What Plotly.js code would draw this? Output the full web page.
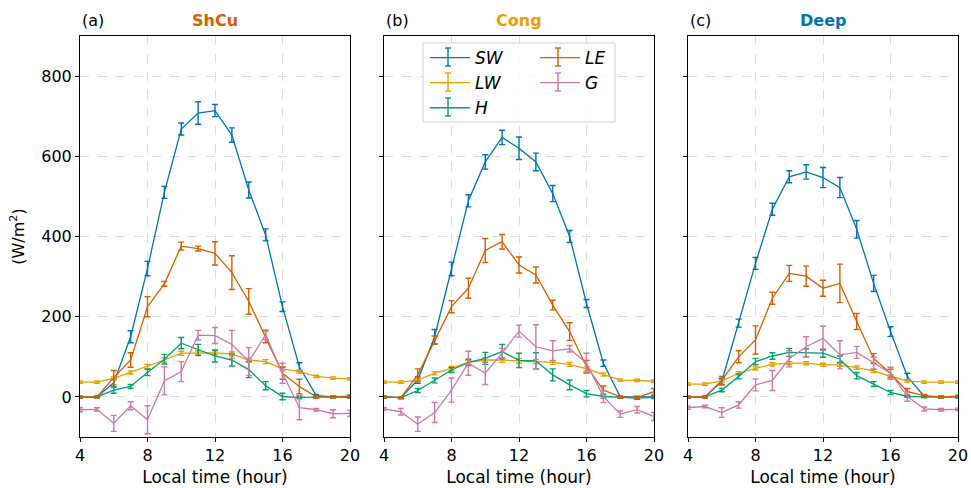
<!DOCTYPE html>
<html><head><meta charset="utf-8">
<script src="https://cdn.plot.ly/plotly-3.0.1.min.js"></script>
<style>body{margin:0;padding:0;background:#fff}#chart{width:971px;height:488px}</style>
</head><body><div id="chart"></div>
<script>
const hours = [4,5,6,7,8,9,10,11,12,13,14,15,16,17,18,19,20];
const panels = ["ShCu","Cong","Deep"];
const panelLabels = ["(a)","(b)","(c)"];
const seriesNames = ["SW","LW","H","LE","G"];

// ShCu
const SW_a = [0,0,35,150,320,510,668,708,714,653,516,404,225,75,3,0,0];
const SW_a_err = [2,2,10,15,18,15,15,28,15,18,20,15,12,10,3,2,2];
const LW_a = [37,37,46,61,76,92,109,110,110,107,92,88,70,63,51,47,45];
const LW_a_err = [3,3,4,4,5,5,5,5,5,5,5,5,5,4,3,3,3];
const H_a = [0,0,17,26,61,94,134,117,102,92,68,28,1,-2,0,0,-1];
const H_a_err = [2,2,8,5,8,12,14,14,15,15,20,10,8,3,2,2,2];
const LE_a = [0,0,48,92,225,282,376,370,358,310,238,150,59,26,0,0,2];
const LE_a_err = [2,2,18,18,25,6,10,6,29,42,32,15,15,18,3,2,3];
const G_a = [-32,-31,-66,-22,-57,40,63,154,153,131,88,155,59,-27,-32,-42,-41];
const G_a_err = [5,4,20,10,35,35,25,12,20,35,35,12,25,30,3,10,8];

// Cong
const SW_b = [0,-2,42,150,319,489,586,647,620,586,507,400,233,84,0,0,0];
const SW_b_err = [2,2,8,18,17,15,18,18,28,22,20,15,10,8,2,2,2];
const LW_b = [37,37,42,59,71,86,92,92,90,88,86,81,70,56,42,41,39];
const LW_b_err = [3,3,4,4,5,5,6,6,6,5,5,5,5,4,3,3,3];
const H_b = [0,-2,16,41,67,86,96,113,91,90,55,30,8,1,-1,-3,-1];
const H_b_err = [2,2,5,6,6,8,15,18,18,20,15,12,8,4,2,3,3];
const LE_b = [0,-2,55,142,225,271,365,387,329,304,229,163,76,17,0,-2,13];
const LE_b_err = [2,2,15,10,15,25,30,18,20,20,12,22,15,10,2,2,8];
const G_b = [-30,-37,-68,-39,17,84,59,109,164,125,115,120,84,1,-43,-32,-49];
const G_b_err = [3,8,18,25,30,30,28,12,15,55,25,8,25,15,8,8,10];

// Deep
const SW_c = [0,0,38,184,333,468,549,561,547,522,418,283,163,51,1,0,0];
const SW_c_err = [2,2,8,10,15,15,15,18,25,25,22,20,12,8,2,2,2];
const LW_c = [32,32,40,59,71,81,84,84,80,80,73,65,51,40,37,37,37];
const LW_c_err = [3,3,3,4,4,4,4,4,4,4,4,4,4,3,3,3,3];
const H_c = [0,0,17,51,88,102,111,110,109,94,53,32,11,1,0,0,0];
const H_c_err = [2,2,4,6,8,8,10,10,10,8,8,6,5,2,2,2,2];
const LE_c = [0,0,41,100,142,246,308,301,271,283,188,96,59,13,3,0,2];
const LE_c_err = [2,2,10,15,35,15,20,25,20,48,20,12,10,8,3,2,2];
const G_c = [-27,-24,-39,-20,30,41,95,125,146,105,111,84,59,1,-30,-32,-31];
const G_c_err = [4,3,12,8,15,25,20,25,30,35,15,15,15,12,5,3,3];

const colors = {SW:"#0072b2", LW:"#e69f00", H:"#009e73", LE:"#d55e00", G:"#cc79a7"};
const titleColors = ["#d55e00","#e69f00","#0072b2"];
const legendOf = {SW:"legend", LW:"legend", H:"legend", LE:"legend2", G:"legend2"};

const data = [
  {SW:[SW_a,SW_a_err], LW:[LW_a,LW_a_err], H:[H_a,H_a_err], LE:[LE_a,LE_a_err], G:[G_a,G_a_err]},
  {SW:[SW_b,SW_b_err], LW:[LW_b,LW_b_err], H:[H_b,H_b_err], LE:[LE_b,LE_b_err], G:[G_b,G_b_err]},
  {SW:[SW_c,SW_c_err], LW:[LW_c,LW_c_err], H:[H_c,H_c_err], LE:[LE_c,LE_c_err], G:[G_c,G_c_err]}
];

const W = 971, Hh = 488;
const xdom = [[80,350],[384,654],[688,958]];
const ydom = [1-437/Hh, 1-36/Hh];
const font = "DejaVu Sans, sans-serif";

const traces = [];
data.forEach((d, pi) => {
  const sfx = pi === 0 ? "" : String(pi+1);
  seriesNames.forEach(s => {
    traces.push({
      x: hours, y: d[s][0], type: "scatter", mode: "lines",
      name: "<i>" + s + "</i>",
      legend: legendOf[s],
      showlegend: pi === 1,
      line: {color: colors[s], width: 1.3},
      error_y: {type: "data", array: d[s][1], visible: true, color: colors[s], thickness: 1.4, width: 3},
      xaxis: "x" + sfx, yaxis: "y" + sfx, hoverinfo: "skip"
    });
  });
});

const legendCommon = {
  xanchor: "left", yanchor: "top", orientation: "v",
  bgcolor: "rgba(0,0,0,0)", borderwidth: 0,
  font: {family: font, size: 17}, itemwidth: 40, tracegroupgap: 0
};

// legend icon error-bar glyphs (decoration for the legend keys, positioned in pixels)
const legendKeys = [
  {s:"SW", cx:448, cy:57}, {s:"LW", cx:448, cy:82}, {s:"H", cx:448, cy:107},
  {s:"LE", cx:558, cy:57}, {s:"G", cx:558, cy:82}
];
const shapes = [{
  type: "rect", xref: "paper", yref: "paper",
  x0: 423/W, x1: 615/W, y0: 1-122/Hh, y1: 1-43/Hh,
  line: {color: "#d0d0d0", width: 1}, fillcolor: "rgba(255,255,255,0.85)", layer: "above"
}];
legendKeys.forEach(k => {
  const c = colors[k.s];
  shapes.push({type:"line", xref:"paper", yref:"paper", x0:k.cx/W, x1:k.cx/W, y0:1-(k.cy-9)/Hh, y1:1-(k.cy+9)/Hh, line:{color:c, width:1.4}, layer:"above"});
  shapes.push({type:"line", xref:"paper", yref:"paper", x0:(k.cx-3)/W, x1:(k.cx+3)/W, y0:1-(k.cy-9)/Hh, y1:1-(k.cy-9)/Hh, line:{color:c, width:1.4}, layer:"above"});
  shapes.push({type:"line", xref:"paper", yref:"paper", x0:(k.cx-3)/W, x1:(k.cx+3)/W, y0:1-(k.cy+9)/Hh, y1:1-(k.cy+9)/Hh, line:{color:c, width:1.4}, layer:"above"});
});

const layout = {
  width: W, height: Hh,
  margin: {l:0, r:0, t:0, b:0},
  paper_bgcolor: "#fff", plot_bgcolor: "#fff",
  font: {family: font, size: 16, color: "#000"},
  showlegend: true,
  legend: Object.assign({x: 425/W, y: 1-40/Hh}, legendCommon),
  legend2: Object.assign({x: 535/W, y: 1-40/Hh}, legendCommon),
  shapes: shapes,
  annotations: []
};

xdom.forEach((xd, pi) => {
  const sfx = pi === 0 ? "" : String(pi+1);
  layout["xaxis" + sfx] = {
    domain: [xd[0]/W, xd[1]/W], range: [4, 20], anchor: "y" + sfx,
    tickvals: [4,8,12,16,20], ticks: "outside", ticklen: 4, tickwidth: 1, tickcolor: "#000",
    showline: true, linecolor: "#000", linewidth: 1, mirror: true,
    showgrid: true, gridcolor: "#dddddd", griddash: "dash", gridwidth: 1, zeroline: false,
    tickfont: {size: 16}, automargin: false,
    title: {text: "Local time (hour)", font: {size: 17}, standoff: 6}
  };
  const ya = {
    domain: ydom, range: [-100, 900], anchor: "x" + sfx,
    tickvals: [0,200,400,600,800], showticklabels: pi === 0,
    ticks: "outside", ticklen: 4, tickwidth: 1, tickcolor: "#000",
    showline: true, linecolor: "#000", linewidth: 1, mirror: true,
    showgrid: true, gridcolor: "#dddddd", griddash: "dash", gridwidth: 1, zeroline: false,
    tickfont: {size: 16}, automargin: false
  };
  if (pi === 0) ya.title = {text: "(W/m<sup>2</sup>)", font: {size: 16}, standoff: 12};
  layout["yaxis" + sfx] = ya;
  layout.annotations.push({
    xref: "paper", yref: "paper", x: xd[0]/W, y: 1-20/Hh, xanchor: "left", yanchor: "middle",
    text: panelLabels[pi], showarrow: false, font: {size: 16, family: font}
  });
  layout.annotations.push({
    xref: "paper", yref: "paper", x: (xd[0]+xd[1])/2/W, y: 1-20/Hh, xanchor: "center", yanchor: "middle",
    text: "<b>" + panels[pi] + "</b>", showarrow: false, font: {size: 16, family: font, color: titleColors[pi]}
  });
});

Plotly.newPlot("chart", traces, layout, {displayModeBar: false, staticPlot: true});
</script>
</body></html>
